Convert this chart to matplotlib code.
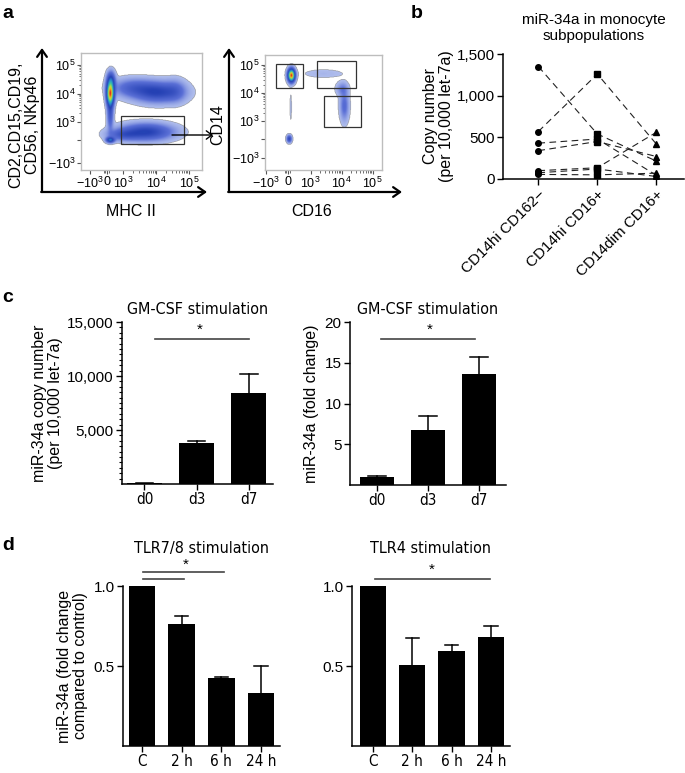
import numpy as np
import matplotlib
matplotlib.use('Agg')
import matplotlib.pyplot as plt
from matplotlib.colors import LinearSegmentedColormap

plt.rcParams['font.family'] = ['Liberation Sans', 'DejaVu Sans']
plt.rcParams['mathtext.fontset'] = 'custom'
plt.rcParams['mathtext.rm'] = 'Liberation Sans'
plt.rcParams['mathtext.it'] = 'Liberation Sans'
NARROW = dict(family='DejaVu Sans', stretch='condensed')

W, H = 685, 773

# ---- panel a: flow populations, in display (biexponential-like) units ----
# cluster centre x, centre y, spread x, spread y, weight
mhc_cx = [2.60, 2.62, 2.60, 4.05, 3.30, 3.70, 2.60, 3.00, 4.60]
mhc_cy = [4.00, 4.45, 3.30, 4.05, 4.20, 2.65, 2.37, 2.55, 4.10]
mhc_sx = [0.07, 0.08, 0.06, 0.45, 0.40, 0.50, 0.08, 0.30, 0.20]
mhc_sy = [0.25, 0.20, 0.35, 0.22, 0.20, 0.18, 0.06, 0.12, 0.25]
mhc_w = [1.00, 0.30, 0.20, 0.28, 0.15, 0.30, 0.40, 0.15, 0.08]

cd16_cx = [2.37, 3.40, 4.07, 4.00, 2.30, 2.35]
cd16_cy = [4.64, 4.70, 3.55, 4.15, 2.36, 3.50]
cd16_sx = [0.07, 0.50, 0.09, 0.12, 0.05, 0.03]
cd16_sy = [0.14, 0.12, 0.35, 0.15, 0.08, 0.50]
cd16_w = [1.00, 0.02, 0.12, 0.08, 0.25, 0.015]

# ---- panel b ----
subsets = ['CD14hi CD162\u2212', 'CD14hi CD16+', 'CD14dim CD16+']
b_classical = [1350, 570, 430, 340, 100, 75, 55]
b_intermediate = [540, 1260, 480, 450, 135, 120, 50]
b_nonclassical = [215, 420, 45, 270, 560, 30, 70]

# ---- panel c ----
days = ['d0', 'd3', 'd7']
c_copies = [50, 3800, 8400]
c_copies_err = [20, 200, 1750]
c_fold = [1.0, 6.7, 13.6]
c_fold_err = [0.05, 1.8, 2.05]

# ---- panel d ----
times = ['C', '2 h', '6 h', '24 h']
d_tlr78 = [1.0, 0.76, 0.428, 0.332]
d_tlr78_err = [0.0, 0.05, 0.006, 0.17]
d_tlr4 = [1.0, 0.509, 0.595, 0.683]
d_tlr4_err = [0.0, 0.167, 0.038, 0.067]

flow_cmap = LinearSegmentedColormap.from_list('flow', [
    (0.0, '#b9c6ef'), (0.10, '#5a6fd6'), (0.28, '#2440b4'), (0.45, '#2a8fcf'),
    (0.60, '#3cc7a0'), (0.75, '#b8e040'), (0.88, '#f2b020'), (1.0, '#e0281a')])

fig = plt.figure(figsize=(W / 100, H / 100), dpi=100)


def ax_px(left, top, right, bottom):
    return fig.add_axes([left / W, 1 - bottom / H, (right - left) / W, (bottom - top) / H])


def density(cx, cy, sx, sy, w, xr, yr):
    gx = np.linspace(xr[0], xr[1], 260)
    gy = np.linspace(yr[0], yr[1], 260)
    X, Y = np.meshgrid(gx, gy)
    Z = np.zeros_like(X)
    for a, b, s1, s2, k in zip(cx, cy, sx, sy, w):
        Z += k * np.exp(-0.5 * (((X - a) / s1) ** 2 + ((Y - b) / s2) ** 2))
    Z = Z / Z.max()
    return np.ma.masked_less(Z, 0.01)


def flow_axes(ax, xr, yr, xticks, yticks, dens):
    ax.imshow(dens, extent=[xr[0], xr[1], yr[0], yr[1]], origin='lower', aspect='auto',
              cmap=flow_cmap, vmin=0, vmax=1, interpolation='bilinear')
    ax.set_xlim(*xr)
    ax.set_ylim(*yr)
    for s in ax.spines.values():
        s.set_color('#bdbdbd')
        s.set_linewidth(1)
    ax.set_xticks(list(xticks.values()))
    ax.set_xticklabels(list(xticks.keys()))
    ax.set_yticks(list(yticks.values()))
    ax.set_yticklabels(list(yticks.keys()))
    minors = [d + np.log10(k) for d in (3, 4) for k in range(2, 10)]
    ax.set_xticks(minors + [xticks['0'] - 0.1, xticks['0'] - 0.05, xticks['0'] + 0.05], minor=True)
    ax.set_yticks(minors, minor=True)
    ax.tick_params(which='major', length=3, width=0.8, labelsize=9, pad=1, color='#555555')
    ax.tick_params(which='minor', length=1.8, width=0.6, color='#555555')


# panel a left
xt = {'$-10^3$': 1.985, '0': 2.5, '$10^3$': 3, '$10^4$': 4, '$10^5$': 5}
yt = {'$-10^3$': 1.56, '': 2.37, '$10^3$': 3, '$10^4$': 4, '$10^5$': 5}
axa1 = ax_px(81, 53, 202, 170)
xr1, yr1 = (1.71, 5.4), (1.32, 5.42)
flow_axes(axa1, xr1, yr1, xt, yt, density(mhc_cx, mhc_cy, mhc_sx, mhc_sy, mhc_w, xr1, yr1))
axa1.add_patch(plt.Rectangle((2.94, 2.23), 4.85 - 2.94, 3.21 - 2.23, fill=False, lw=0.9, ec='#333333'))

# panel a right
xt2 = {'$-10^3$': 1.57, '0': 2.27, '$10^3$': 3, '$10^4$': 4, '$10^5$': 5}
yt2 = {'$-10^3$': 1.68, '': 2.36, '$10^3$': 3, '$10^4$': 4, '$10^5$': 5}
axa2 = ax_px(265, 55, 382, 170)
xr2, yr2 = (1.53, 5.3), (1.25, 5.36)
flow_axes(axa2, xr2, yr2, xt2, yt2, density(cd16_cx, cd16_cy, cd16_sx, cd16_sy, cd16_w, xr2, yr2))
for (x0, x1, y0, y1) in [(1.9, 2.77, 4.18, 5.04), (3.2, 4.47, 4.18, 5.14), (3.43, 4.63, 2.79, 3.89)]:
    axa2.add_patch(plt.Rectangle((x0, y0), x1 - x0, y1 - y0, fill=False, lw=0.9, ec='#333333'))

# overlay for arrows and panel letters
ov = fig.add_axes([0, 0, 1, 1], zorder=10)
ov.set_xlim(0, W)
ov.set_ylim(H, 0)
ov.axis('off')
arr = dict(arrowstyle='->,head_length=0.5,head_width=0.35', lw=1.6, color='black', shrinkA=0, shrinkB=0)
for x0, xe in [(42, 207), (229, 402)]:
    ov.annotate('', xy=(x0, 48), xytext=(x0, 192), arrowprops=arr)
    ov.annotate('', xy=(xe, 192), xytext=(x0 - 0.8, 192), arrowprops=arr)
ov.annotate('', xy=(213, 135), xytext=(172, 135),
            arrowprops=dict(arrowstyle='->,head_length=0.4,head_width=0.3', lw=1.0, color='black',
                            shrinkA=0, shrinkB=0))
ov.text(24, 125, 'CD2,CD15,CD19,\nCD56, NKp46', rotation=90, ha='center', va='center',
        fontsize=11.5, linespacing=1.1)
ov.text(131, 211, 'MHC II', ha='center', va='center', fontsize=11.5)
ov.text(218, 125, 'CD14', rotation=90, ha='center', va='center', fontsize=11.5)
ov.text(312, 211, 'CD16', ha='center', va='center', fontsize=11.5)
for lab, x, y in [('a', 2, 14), ('b', 411, 14), ('c', 2, 298), ('d', 2, 545)]:
    ov.text(x, y, lab, fontsize=14, fontweight='bold', ha='left', va='center')


def style(ax, size=10.5):
    for s in ['top', 'right']:
        ax.spines[s].set_visible(False)
    for s in ['left', 'bottom']:
        ax.spines[s].set_linewidth(1.1)
    ax.tick_params(length=4, width=1.0, labelsize=size, pad=2)


# panel b
axb = ax_px(503, 54, 684, 179)
style(axb, 11)
xb = np.arange(len(subsets))
for v in zip(b_classical, b_intermediate, b_nonclassical):
    axb.plot(xb, v, color='#222222', lw=0.8, dashes=(6, 4), zorder=1)
axb.plot(np.zeros(len(b_classical)), b_classical, 'o', color='black', ms=4, zorder=2)
axb.plot(np.ones(len(b_intermediate)), b_intermediate, 's', color='black', ms=4, zorder=2)
axb.plot(np.full(len(b_nonclassical), 2), b_nonclassical, '^', color='black', ms=4, zorder=2)
axb.set_xlim(-0.6, 2.47)
axb.set_ylim(0, 1500)
axb.set_yticks([0, 500, 1000, 1500])
axb.set_yticklabels(['0', '500', '1,000', '1,500'])
axb.set_xticks(xb)
axb.set_xticklabels(subsets, rotation=45, ha='right', rotation_mode='anchor')
axb.set_ylabel('Copy number\n(per 10,000 let-7a)', fontsize=11.5, labelpad=2, linespacing=1.05)
axb.set_title('miR-34a in monocyte\nsubpopulations', fontsize=11, pad=10, linespacing=1.2)


def bars(ax, vals, errs, labels, ylim, width=0.67):
    x = np.arange(len(vals))
    ax.bar(x, vals, width=width, color='black', zorder=2)
    for xi, v, e in zip(x, vals, errs):
        if e > 0:
            ax.plot([xi, xi], [v, v + e], color='black', lw=1.1, zorder=1)
            ax.plot([xi - width / 4, xi + width / 4], [v + e, v + e], color='black', lw=1.1)
    ax.set_ylim(*ylim)
    ax.set_xticks(x)
    ax.set_xticklabels(labels)
    return x


def sig(ax, x0, x1, y, star_x=None, star_y=None):
    ax.plot([x0, x1], [y, y], color='#444444', lw=1.2, clip_on=False)
    if star_x is not None:
        ax.text(star_x, star_y, '*', ha='center', va='center', fontsize=11, clip_on=False)


# panel c left
axc1 = ax_px(122, 322, 273, 484)
style(axc1, 11)
bars(axc1, c_copies, c_copies_err, days, (0, 15000))
axc1.set_xlim(-0.43, 2.46)
axc1.set_yticks([5000, 10000, 15000])
axc1.set_yticklabels(['5,000', '10,000', '15,000'])
axc1.set_yticks(np.arange(500, 15000, 500), minor=True)
axc1.tick_params(which='minor', length=2.2, width=0.8)
axc1.set_ylabel('miR-34a copy number\n(per 10,000 let-7a)', fontsize=11.5, labelpad=3, linespacing=1.05)
axc1.set_title('GM-CSF stimulation', fontsize=11.5, pad=6, **NARROW)
sig(axc1, 0.21, 2.0, 13400, 1.06, 14300)

# panel c right
axc2 = ax_px(350, 322, 506, 485)
style(axc2, 11)
bars(axc2, c_fold, c_fold_err, days, (0, 20))
axc2.set_xlim(-0.53, 2.53)
axc2.set_yticks([5, 10, 15, 20])
axc2.set_ylabel('miR-34a (fold change)', fontsize=11.5, labelpad=4)
axc2.set_title('GM-CSF stimulation', fontsize=11.5, pad=6, **NARROW)
sig(axc2, 0.08, 1.92, 17.9, 1.04, 19.1)

# panel d left
axd1 = ax_px(123, 586, 280, 746)
style(axd1, 11)
bars(axd1, d_tlr78, d_tlr78_err, times, (0, 1.0))
axd1.set_xlim(-0.48, 3.48)
axd1.set_yticks([0.5, 1.0])
axd1.set_ylabel('miR-34a (fold change\ncompared to control)', fontsize=11.5, labelpad=4, linespacing=1.05)
axd1.set_title('TLR7/8 stimulation', fontsize=11.5, pad=24, **NARROW)
sig(axd1, 0.03, 1.06, 1.044)
sig(axd1, 0.03, 2.07, 1.0875, 1.11, 1.135)

# panel d right
axd2 = ax_px(352, 586, 510, 746)
style(axd2, 11)
bars(axd2, d_tlr4, d_tlr4_err, times, (0, 1.0))
axd2.set_xlim(-0.53, 3.48)
axd2.set_yticks([0.5, 1.0])
axd2.set_title('TLR4 stimulation', fontsize=11.5, pad=24, **NARROW)
sig(axd2, 0.05, 2.97, 1.044, 1.5, 1.1)

for ax in (axc1, axc2, axd1, axd2):
    for t in ax.get_xticklabels():
        t.set_family(NARROW['family'])
        t.set_stretch('condensed')

fig.savefig('out.png', dpi=100)
